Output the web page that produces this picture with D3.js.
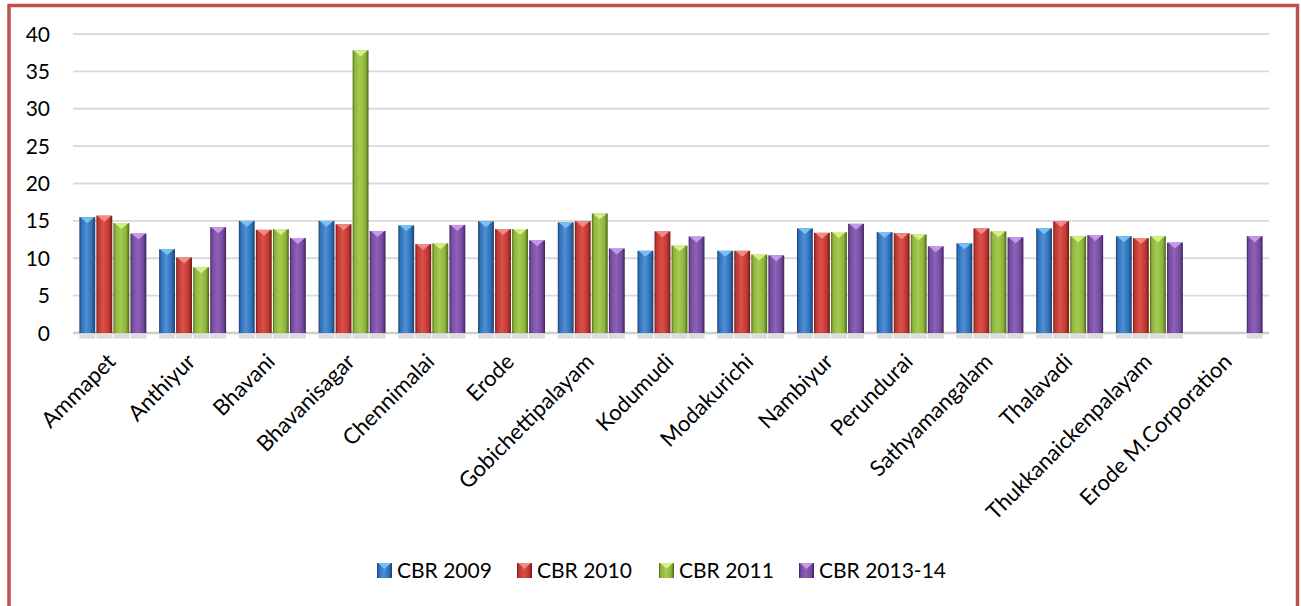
<!DOCTYPE html>
<html>
<head>
<meta charset="utf-8">
<script src="https://cdn.jsdelivr.net/npm/d3@7"></script>
<style>
  html, body { margin: 0; padding: 0; background: #fff; }
  svg { display: block; font-family: Lato, "Noto Sans", sans-serif; }
</style>
</head>
<body>
<svg id="chart"></svg>
<script>
const blocks = ["Ammapet", "Anthiyur", "Bhavani", "Bhavanisagar", "Chennimalai", "Erode",
    "Gobichettipalayam", "Kodumudi", "Modakurichi", "Nambiyur", "Perundurai",
    "Sathyamangalam", "Thalavadi", "Thukkanaickenpalayam", "Erode M.Corporation"];

const seriesNames = ["CBR 2009", "CBR 2010", "CBR 2011", "CBR 2013-14"];

const cbr2009 = [15.5, 11.2, 15.0, 15.0, 14.4, 14.95, 14.8, 11.0, 11.0, 14.0, 13.5, 12.0, 14.0, 12.95, null];
const cbr2010 = [15.7, 10.1, 13.8, 14.55, 11.9, 13.9, 14.95, 13.6, 11.0, 13.4, 13.35, 14.0, 14.95, 12.7, null];
const cbr2011 = [14.7, 8.8, 13.9, 37.8, 12.0, 13.9, 16.0, 11.7, 10.5, 13.5, 13.2, 13.6, 12.95, 12.95, null];
const cbr2013 = [13.3, 14.15, 12.7, 13.65, 14.46, 12.4, 11.3, 12.9, 10.4, 14.6, 11.6, 12.8, 13.1, 12.1, 12.95];

const yTicks = [0, 5, 10, 15, 20, 25, 30, 35, 40];

const width = 1301;
const height = 606;
const margin = {top: 34, left: 73, right: 32, bottom: 273};

// colours per series: dark edge, body, highlight, bevel
const palette = [
    {edge: "#1b3f6e", body: "#2f6fb7", light: "#4f8fd4", bevel: "#79c0f2"},
    {edge: "#6e1a17", body: "#c0372f", light: "#d9514a", bevel: "#f08a84"},
    {edge: "#4c6417", body: "#8cb43a", light: "#a4ca52", bevel: "#d3ee8a"},
    {edge: "#3d2458", body: "#7649a0", light: "#8d62b8", bevel: "#c49ae8"}
];

const values = [cbr2009, cbr2010, cbr2011, cbr2013];

const svg = d3.select("#chart")
    .attr("width", width)
    .attr("height", height);

const defs = svg.append("defs");
palette.forEach((c, i) => {
    const grad = defs.append("linearGradient")
        .attr("id", "bar" + i)
        .attr("x1", "0%").attr("x2", "100%")
        .attr("y1", "0%").attr("y2", "0%");
    grad.append("stop").attr("offset", "0%").attr("stop-color", c.edge);
    grad.append("stop").attr("offset", "12%").attr("stop-color", c.body);
    grad.append("stop").attr("offset", "45%").attr("stop-color", c.light);
    grad.append("stop").attr("offset", "80%").attr("stop-color", c.body);
    grad.append("stop").attr("offset", "100%").attr("stop-color", c.edge);
});

// outer frame
svg.append("rect")
    .attr("x", 9)
    .attr("y", 5.5)
    .attr("width", 1288.5)
    .attr("height", 640)
    .attr("fill", "#fff")
    .attr("stroke", "#c0504d")
    .attr("stroke-width", 3.5);

const x0 = d3.scaleBand()
    .domain(blocks)
    .range([margin.left, width - margin.right])
    .paddingInner(0.16)
    .paddingOuter(0.08);

const x1 = d3.scaleBand()
    .domain(d3.range(seriesNames.length))
    .range([0, x0.bandwidth()])
    .paddingInner(0.07);

const y = d3.scaleLinear()
    .domain([0, 40])
    .range([height - margin.bottom, margin.top]);

// gridlines
svg.append("g")
    .selectAll("line")
    .data(yTicks)
    .join("line")
    .attr("x1", margin.left)
    .attr("x2", width - margin.right)
    .attr("y1", d => y(d))
    .attr("y2", d => y(d))
    .attr("stroke", d => d === 0 ? "#cfcfcf" : "#d9d9d9")
    .attr("stroke-width", d => d === 0 ? 2.5 : 1.8);

// y tick labels
svg.append("g")
    .selectAll("text")
    .data(yTicks)
    .join("text")
    .attr("x", 50)
    .attr("y", d => y(d))
    .attr("dy", "0.36em")
    .attr("text-anchor", "end")
    .attr("font-size", 21)
    .attr("fill", "#000")
    .text(d => d);

const groups = svg.append("g")
    .selectAll("g")
    .data(blocks)
    .join("g")
    .attr("transform", d => `translate(${x0(d)},0)`);

const bars = groups.selectAll("g")
    .data((d, i) => values.map((s, k) => ({k: k, v: s[i]})).filter(e => e.v != null))
    .join("g");

// faint reflection below the axis
bars.append("rect")
    .attr("x", d => x1(d.k))
    .attr("y", y(0) + 1.5)
    .attr("width", x1.bandwidth())
    .attr("height", 4)
    .attr("fill", "#c9cbd3")
    .attr("opacity", 0.7);

bars.append("rect")
    .attr("x", d => x1(d.k))
    .attr("y", d => y(d.v))
    .attr("width", x1.bandwidth())
    .attr("height", d => y(0) - y(d.v))
    .attr("fill", d => `url(#bar${d.k})`);

// bevelled top
bars.append("polygon")
    .attr("points", d => {
        const bx = x1(d.k), bw = x1.bandwidth(), by = y(d.v);
        return [[bx + 1, by], [bx + bw - 1, by], [bx + bw / 2, by + 6]].map(p => p.join(",")).join(" ");
    })
    .attr("fill", d => palette[d.k].bevel);

// x labels
svg.append("g")
    .selectAll("text")
    .data(blocks)
    .join("text")
    .attr("transform", d => `translate(${x0(d) + x0.bandwidth() / 2 + 4},${y(0) + 30}) rotate(-45)`)
    .attr("text-anchor", "end")
    .attr("font-size", 22)
    .attr("fill", "#000")
    .text(d => d);

// legend
const legendX = [377, 517, 659, 799];
const legend = svg.append("g")
    .selectAll("g")
    .data(seriesNames)
    .join("g")
    .attr("transform", (d, i) => `translate(${legendX[i]},563)`);

legend.append("rect")
    .attr("width", 15)
    .attr("height", 15)
    .attr("fill", (d, i) => `url(#bar${i})`);

legend.append("polygon")
    .attr("points", "1,0 14,0 7.5,6")
    .attr("fill", (d, i) => palette[i].bevel);

legend.append("text")
    .attr("x", 20)
    .attr("y", 14.5)
    .attr("font-size", 21)
    .attr("fill", "#000")
    .text(d => d);
</script>
</body>
</html>
